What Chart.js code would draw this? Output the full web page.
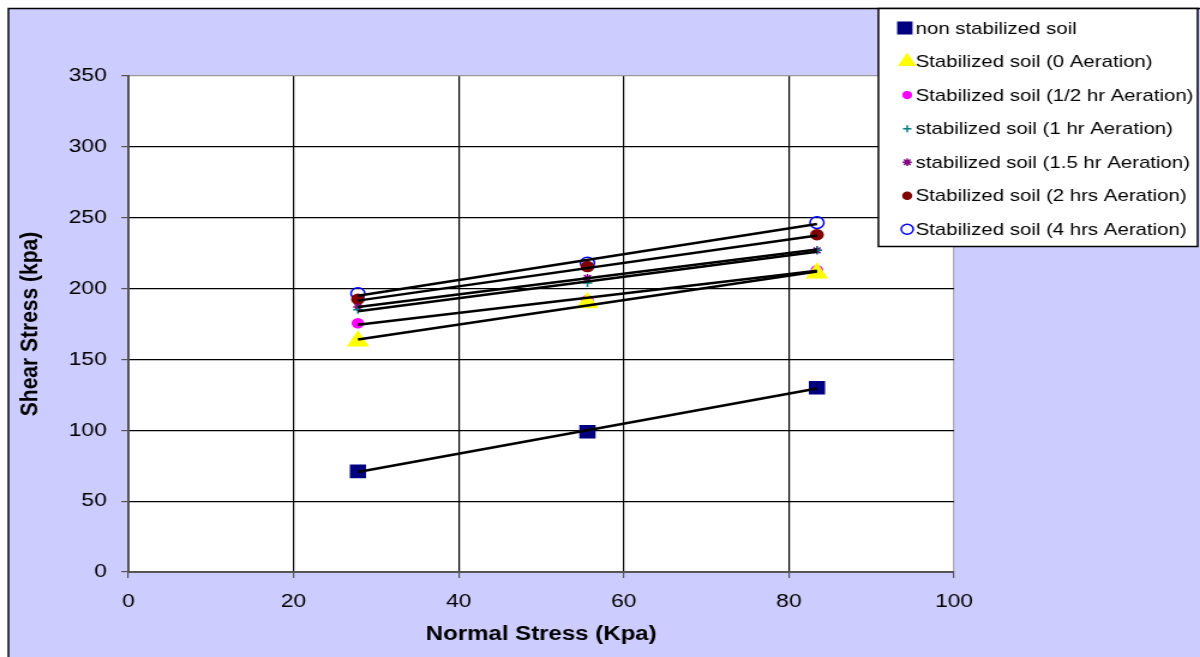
<!DOCTYPE html>
<html lang="en">
<head>
    <meta charset="UTF-8">
    <title>Shear Stress vs Normal Stress</title>
    <script src="https://cdn.jsdelivr.net/npm/chart.js"></script>
    <style>
        body {
            margin: 0;
            background: #fff;
            overflow: hidden;
        }
        /* the original picture is stretched sideways, so draw narrower and scale */
        #wrap {
            width: 1000px;
            height: 657px;
            transform: scaleX(1.2);
            transform-origin: 0 0;
        }
    </style>
</head>
<body>
    <div id="wrap"><canvas id="shearChart"></canvas></div>
    <script>
        // normal stress (Kpa) for the three test loads
        const normalStress = [27.8, 55.6, 83.4];

        // shear stress (kpa)
        const nonStabilized = [71, 99, 130];
        const aeration0 = [163, 190, 211];
        const aerationHalf = [175.5, 192, 213];
        const aeration1 = [185, 204, 227];
        const aeration15 = [187, 207.5, 227];
        const aeration2 = [192.5, 215.5, 238];
        const aeration4 = [196.5, 218, 246.5];

        // trend line end values (at first and last normal stress)
        const trendNon = [70.5, 129.5];
        const trend0 = [164, 212];
        const trendHalf = [174.5, 212.5];
        const trend1 = [184, 226];
        const trend15 = [187, 227.5];
        const trend2 = [191.5, 237.5];
        const trend4 = [195, 245.5];

        const xTicks = [0, 20, 40, 60, 80, 100];
        const yTicks = [0, 50, 100, 150, 200, 250, 300, 350];

        const toPoints = (xs, ys) => ys.map((y, i) => ({ x: xs[i], y: y }));
        const trendX = [normalStress[0], normalStress[normalStress.length - 1]];

        function markers(label, values, style, radius, fill, stroke, legendRadius) {
            return {
                label: label,
                data: toPoints(normalStress, values),
                pointStyle: style,
                pointRadius: radius,
                pointBackgroundColor: fill,
                pointBorderColor: stroke,
                pointBorderWidth: 1.5,
                showLine: false,
                order: 1,
                legendRadius: legendRadius
            };
        }

        function trend(values) {
            return {
                label: '',
                data: toPoints(trendX, values),
                showLine: true,
                borderColor: '#000',
                borderWidth: 2.5,
                pointRadius: 0,
                order: 0,
                isTrend: true
            };
        }

        const datasets = [
            markers('non stabilized soil', nonStabilized, 'rect', 8.5, '#000080', '#000080', 8),
            markers('Stabilized soil (0 Aeration)', aeration0, 'triangle', 9.3, '#FFFF00', '#FFFF00', 7.5),
            markers('Stabilized soil (1/2 hr Aeration)', aerationHalf, 'circle', 4.5, '#FF00FF', '#FF00FF', 3.3),
            markers('stabilized soil (1 hr Aeration)', aeration1, 'cross', 4, '#008080', '#008080', 3.5),
            markers('stabilized soil (1.5 hr Aeration)', aeration15, 'star', 4, '#800080', '#800080', 3.8),
            markers('Stabilized soil (2 hrs Aeration)', aeration2, 'circle', 5, '#800000', '#800000', 3.5),
            markers('Stabilized soil (4 hrs Aeration)', aeration4, 'circle', 5.8, 'rgba(0,0,0,0)', '#0000FF', 5),
            trend(trendNon), trend(trend0), trend(trendHalf), trend(trend1),
            trend(trend15), trend(trend2), trend(trend4)
        ];

        const fontFamily = '"Liberation Sans", Arial, sans-serif';

        const backdrop = {
            id: 'backdrop',
            beforeDraw(chart) {
                const { ctx, width, height, chartArea: a } = chart;
                ctx.save();
                ctx.fillStyle = '#fff';
                ctx.fillRect(0, 0, width, height);
                ctx.fillStyle = '#CCCCFF';
                ctx.fillRect(7, 8, width, height);
                ctx.strokeStyle = '#000';
                ctx.lineWidth = 1.5;
                ctx.strokeRect(7, 8.5, width + 10, height + 10);
                ctx.fillStyle = '#fff';
                ctx.fillRect(a.left, a.top, a.right - a.left, a.bottom - a.top);
                ctx.restore();
            }
        };

        const boxLegend = {
            id: 'boxLegend',
            afterDraw(chart) {
                const ctx = chart.ctx;
                const items = chart.data.datasets.filter(d => !d.isTrend);
                ctx.save();
                ctx.fillStyle = '#fff';
                ctx.fillRect(732, 8, 266, 238);
                ctx.strokeStyle = '#000';
                ctx.lineWidth = 1.5;
                ctx.strokeRect(732, 8.5, 266, 238);
                ctx.textBaseline = 'middle';
                ctx.textAlign = 'left';
                ctx.font = '17px ' + fontFamily;
                items.forEach((d, i) => {
                    const y = 28 + i * 33.55;
                    ctx.fillStyle = d.pointBackgroundColor;
                    ctx.strokeStyle = d.pointBorderColor;
                    ctx.lineWidth = 1.5;
                    Chart.helpers.drawPoint(ctx, {
                        pointStyle: d.pointStyle,
                        radius: d.legendRadius,
                        borderWidth: 1.5,
                        rotation: 0
                    }, d.pointStyle === 'rect' ? 754 : 756, y);
                    ctx.fillStyle = '#000';
                    ctx.fillText(d.label, 763, y + 1);
                });
                ctx.restore();
            }
        };

        new Chart(document.getElementById('shearChart'), {
            type: 'scatter',
            data: { datasets: datasets },
            plugins: [backdrop, boxLegend],
            options: {
                responsive: true,
                maintainAspectRatio: false,
                animation: false,
                layout: { padding: { left: 0, top: 76, right: 205, bottom: 0 } },
                plugins: {
                    legend: { display: false },
                    tooltip: { enabled: false }
                },
                scales: {
                    x: {
                        type: 'linear',
                        min: xTicks[0],
                        max: xTicks[xTicks.length - 1],
                        afterFit: s => { s.height = 85; },
                        afterBuildTicks: s => { s.ticks = xTicks.map(v => ({ value: v })); },
                        ticks: {
                            color: '#000',
                            padding: 12,
                            maxRotation: 0,
                            font: { family: fontFamily, size: 19 }
                        },
                        grid: {
                            color: c => c.tick && c.tick.value === 100 ? '#aaa' : '#000',
                            lineWidth: 1.2,
                            tickLength: 6,
                            tickColor: '#555'
                        },
                        border: { color: '#555', width: 2 },
                        title: {
                            display: true,
                            text: 'Normal Stress (Kpa)',
                            color: '#000',
                            padding: { top: 0, bottom: 11 },
                            font: { family: fontFamily, size: 20, weight: 'bold' }
                        }
                    },
                    y: {
                        type: 'linear',
                        min: yTicks[0],
                        max: yTicks[yTicks.length - 1],
                        afterFit: s => { s.width = 107; },
                        afterBuildTicks: s => { s.ticks = yTicks.map(v => ({ value: v })); },
                        ticks: {
                            color: '#000',
                            padding: 12,
                            font: { family: fontFamily, size: 19 }
                        },
                        grid: {
                            color: c => c.tick && c.tick.value === 350 ? '#999' : '#000',
                            lineWidth: 1.2,
                            tickLength: 6,
                            tickColor: '#555'
                        },
                        border: { color: '#555', width: 2 },
                        title: {
                            display: true,
                            text: 'Shear Stress (kpa)',
                            color: '#000',
                            padding: { top: 13, bottom: 0 },
                            font: { family: fontFamily, size: 21, weight: 'bold' }
                        }
                    }
                }
            }
        });
    </script>
</body>
</html>
